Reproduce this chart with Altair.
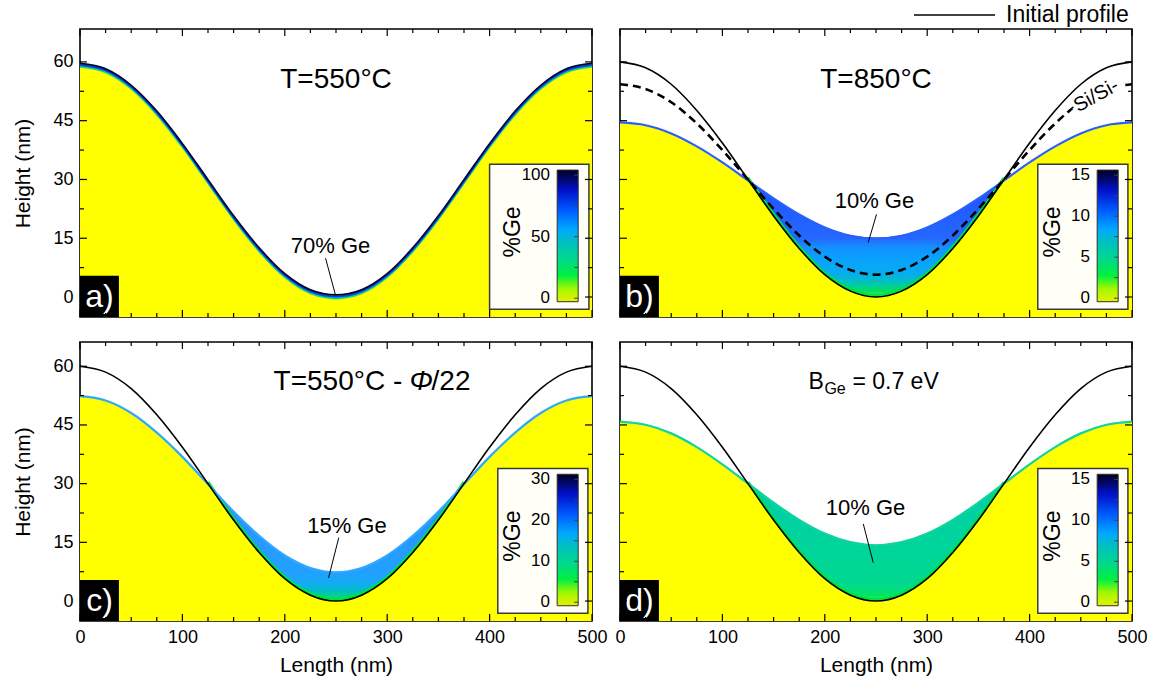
import altair as alt
import pandas as pd

FONT = "Liberation Sans"
YELLOW = "#ffff00"

# ---- profiles (nm) sampled every 25 nm along the ripple ----
LENGTH = [0, 25, 50, 75, 100, 125, 150, 175, 200, 225, 250,
          275, 300, 325, 350, 375, 400, 425, 450, 475, 500]
INITIAL = [60.0, 58.5, 54.3, 47.6, 39.3, 30.0, 20.7, 12.4, 5.7, 1.5, 0.0,
           1.5, 5.7, 12.4, 20.7, 30.0, 39.3, 47.6, 54.3, 58.5, 60.0]
SURFACE_A = [59.7, 58.3, 54.1, 47.5, 39.2, 30.0, 20.8, 12.6, 6.0, 1.9, 0.6,
             1.9, 6.0, 12.6, 20.8, 30.0, 39.2, 47.5, 54.1, 58.3, 59.7]
SURFACE_B = [44.7, 44.0, 41.9, 38.6, 34.5, 29.9, 25.3, 21.2, 17.9, 15.8, 15.1,
             15.8, 17.9, 21.2, 25.3, 29.9, 34.5, 38.6, 41.9, 44.0, 44.7]
INTERFACE_B = [54.3, 53.1, 49.7, 44.3, 37.5, 30.0, 22.5, 15.7, 10.3, 6.9, 5.7,
               6.9, 10.3, 15.7, 22.5, 30.0, 37.5, 44.3, 49.7, 53.1, 54.3]
SURFACE_C = [52.5, 51.4, 48.2, 43.2, 37.0, 30.0, 23.0, 16.8, 11.8, 8.6, 7.5,
             8.6, 11.8, 16.8, 23.0, 30.0, 37.0, 43.2, 48.2, 51.4, 52.5]
SURFACE_D = [46.0, 45.2, 43.0, 39.5, 35.1, 30.2, 25.3, 20.9, 17.4, 15.2, 14.4,
             15.2, 17.4, 20.9, 25.3, 30.2, 35.1, 39.5, 43.0, 45.2, 46.0]

# ---- axis ticks ----
X_MAJOR = [0, 100, 200, 300, 400, 500]
X_MINOR = [25, 50, 75, 125, 150, 175, 225, 250, 275, 325, 350, 375, 425, 450, 475]
Y_MAJOR = [0, 15, 30, 45, 60]
Y_MINOR = [7.5, 22.5, 37.5, 52.5]

# ---- %Ge colour map ----
GE_OFFSETS = [0.0, 0.1, 0.2, 0.33, 0.45, 0.55, 0.7, 0.85, 1.0]
GE_COLORS = ["#e8f000", "#a0f800", "#00f040", "#00d890", "#00c0c0",
             "#00a8ff", "#0058ff", "#0010c8", "#000020"]

# colour through the Ge-rich layer, from the free surface down to the old profile
LAYER_B_OFFSETS = [0.0, 0.5, 0.58, 0.66, 0.8, 0.88, 0.95, 1.0]
LAYER_B_COLORS = ["#2050ff", "#2468ff", "#1490ff", "#0aa0ff", "#06acf0", "#00c4b8", "#00e060", "#70f020"]
LAYER_C_OFFSETS = [0.0, 0.75, 0.85, 0.92, 0.97, 1.0]
LAYER_C_COLORS = ["#2c8cff", "#22a0ff", "#12acf4", "#00c0c0", "#00dc70", "#60f020"]
LAYER_D_OFFSETS = [0.0, 0.5, 0.85, 0.95, 1.0]
LAYER_D_COLORS = ["#00cca8", "#00d49c", "#00d890", "#00e468", "#40f030"]

# thin segregated layer in (a): offset below the surface (px), colour, width
BAND_A_OFFSETS = [4.0, 3.0, 1.8, 0.3]
BAND_A_COLORS = ["#30e050", "#00b8d0", "#0048f0", "#000430"]
BAND_A_WIDTHS = [1.5, 1.5, 2.0, 1.8]

# ---- texts ----
PANEL_LABELS = ["a)", "b)", "c)", "d)"]
CB_LABELS = {"a": [0, 50, 100], "b": [0, 5, 10, 15], "c": [0, 10, 20, 30], "d": [0, 5, 10, 15]}
CB_MINOR = {"a": [0, 25, 50, 75, 100], "b": [0, 2.5, 5, 7.5, 10, 12.5, 15],
            "c": [0, 5, 10, 15, 20, 25, 30], "d": [0, 2.5, 5, 7.5, 10, 12.5, 15]}
NOTE_TEXT = {"a": "70% Ge", "b": "10% Ge", "c": "15% Ge", "d": "10% Ge"}
NOTE_POS = {"a": (244.7, 13.0), "b": (248.5, 24.5), "c": (260.7, 19.1), "d": (239.8, 23.9)}
NOTE_LINE = {"a": (239.8, 9.9, 249.5, 0.5), "b": (250.5, 21.1, 242.4, 13.9),
             "c": (252.7, 16.2, 242.7, 5.9), "d": (237.6, 19.7, 247.3, 9.8)}
LEGEND_LABEL = ["Initial profile"]
INTERFACE_LABEL = ["Si/Si-"]

W = 512
XS = alt.Scale(domain=[0, 500], nice=False, zero=False)


def vgrad(offsets, colors, upward=False):
    return alt.Gradient(
        gradient="linear",
        stops=[alt.GradientStop(color=c, offset=o) for o, c in zip(offsets, colors)],
        x1=0, x2=0, y1=1 if upward else 0, y2=0 if upward else 1,
    )


def panel(key, surface, ydom, height, left, bottom, title_parts, layer=None,
          edge_color=None, box_x=(408, 496)):
    ys = alt.Scale(domain=ydom, nice=False, zero=False)
    xa = alt.Axis(values=X_MAJOR, title="Length (nm)", labelFlush=False, titlePadding=8) if bottom else None
    ya = alt.Axis(values=Y_MAJOR, title="Height (nm)", labelFlush=False, titlePadding=19) if left else None

    def ex(f):
        return alt.X(f"{f}:Q", scale=XS, axis=xa)

    def ey(f):
        return alt.Y(f"{f}:Q", scale=ys, axis=ya)

    prof = pd.DataFrame({"x": LENGTH, "init": INITIAL, "surf": surface})
    valley = prof[(prof.x >= 125) & (prof.x <= 375)]
    L = []

    # substrate
    L.append(alt.Chart(prof).mark_area(color=YELLOW, interpolate="monotone").encode(
        x=ex("x"), y=ey("surf"), y2=alt.datum(ydom[0])))

    if layer is not None:
        offs, cols = layer
        L.append(alt.Chart(valley).mark_area(interpolate="monotone", color=vgrad(offs, cols)).encode(
            x=ex("x"), y=ey("surf"), y2=alt.Y2("init:Q")))
        L.append(alt.Chart(valley).mark_line(color="#00e040", strokeWidth=3, interpolate="monotone",
                                               yOffset=-1.5).encode(x=ex("x"), y=ey("init")))
        L.append(alt.Chart(prof).mark_line(color=edge_color, strokeWidth=2.2, interpolate="monotone",
                                            yOffset=0.6).encode(x=ex("x"), y=ey("surf")))
        L.append(alt.Chart(prof).mark_line(color="black", strokeWidth=1.6, interpolate="monotone").encode(
            x=ex("x"), y=ey("init")))
    else:
        for off, col, wd in zip(BAND_A_OFFSETS, BAND_A_COLORS, BAND_A_WIDTHS):
            L.append(alt.Chart(prof).mark_line(color=col, strokeWidth=wd, interpolate="monotone",
                                                yOffset=off).encode(x=ex("x"), y=ey("surf")))

    if key == "b":
        iface = pd.DataFrame({"x": LENGTH, "h": INTERFACE_B})
        L.append(alt.Chart(iface).mark_line(color="black", strokeWidth=2.6, strokeDash=[8, 5],
                                             interpolate="monotone").encode(x=ex("x"), y=ey("h")))
        lab = pd.DataFrame({"x": [465], "y": [51.4], "t": INTERFACE_LABEL})
        for extra in ({"stroke": "white", "strokeWidth": 7}, {}):
            L.append(alt.Chart(lab).mark_text(font=FONT, fontSize=20, angle=331, align="center",
                                               baseline="middle", **extra).encode(
                x=ex("x"), y=ey("y"), text="t:N"))

    # title
    for part in title_parts:
        t = pd.DataFrame({"x": [part["x"]], "y": [part["y"]], "t": [part["t"]]})
        L.append(alt.Chart(t).mark_text(font=FONT, fontSize=part.get("size", 28), align=part.get("align", "center"),
                                         baseline="middle", fontStyle=part.get("style", "normal"),
                                         dx=part.get("dx", 0), dy=part.get("dy", 0)).encode(
            x=ex("x"), y=ey("y"), text="t:N"))

    # annotation
    nx, ny = NOTE_POS[key]
    note = pd.DataFrame({"x": [nx], "y": [ny], "t": [NOTE_TEXT[key]]})
    L.append(alt.Chart(note).mark_text(font=FONT, fontSize=22, baseline="middle").encode(
        x=ex("x"), y=ey("y"), text="t:N"))
    x1, y1, x2, y2 = NOTE_LINE[key]
    seg = pd.DataFrame({"x": [x1], "y": [y1], "x2": [x2], "y2": [y2]})
    L.append(alt.Chart(seg).mark_rule(color="black", strokeWidth=1).encode(
        x=ex("x"), y=ey("y"), x2=alt.X2("x2:Q"), y2=alt.Y2("y2:Q")))

    # colour bar inset
    box = pd.DataFrame({"x": [box_x[0]], "x2": [box_x[1]], "y": [-3.1], "y2": [33.9]})
    L.append(alt.Chart(box).mark_rect(fill="#fffff8", stroke="#3a3a3a", strokeWidth=1.5).encode(
        x=ex("x"), x2=alt.X2("x2:Q"), y=ey("y"), y2=alt.Y2("y2:Q")))
    bar = pd.DataFrame({"x": [466], "x2": [486.5], "y": [-1.2], "y2": [32.4]})
    L.append(alt.Chart(bar).mark_rect(color=vgrad(GE_OFFSETS, GE_COLORS, upward=True),
                                       stroke="#303030", strokeWidth=1).encode(
        x=ex("x"), x2=alt.X2("x2:Q"), y=ey("y"), y2=alt.Y2("y2:Q")))
    vmax = CB_LABELS[key][-1]
    lo, hi = -0.3, 31.1
    cbt = pd.DataFrame({"v": CB_MINOR[key]})
    cbt["y"] = lo + cbt.v / vmax * (hi - lo)
    cbt["x"], cbt["x2"] = 482.5, 486.5
    L.append(alt.Chart(cbt).mark_rule(color="#404040", strokeWidth=1).encode(
        x=ex("x"), x2=alt.X2("x2:Q"), y=ey("y")))
    cbl = pd.DataFrame({"v": CB_LABELS[key]})
    cbl["y"] = lo + cbl.v / vmax * (hi - lo)
    cbl["x"] = 459
    cbl["t"] = cbl.v.astype(str)
    L.append(alt.Chart(cbl).mark_text(font=FONT, fontSize=17, align="right", baseline="middle").encode(
        x=ex("x"), y=ey("y"), text="t:N"))
    ge = pd.DataFrame({"x": [423], "y": [16.6], "t": ["%Ge"]})
    L.append(alt.Chart(ge).mark_text(font=FONT, fontSize=23, angle=270, align="center", baseline="middle").encode(
        x=ex("x"), y=ey("y"), text="t:N"))

    # panel letter
    idx = "abcd".index(key)
    lb = pd.DataFrame({"x": [0], "x2": [38], "y": [ydom[0]], "y2": [ydom[0] + 10.5]})
    L.append(alt.Chart(lb).mark_rect(color="black").encode(
        x=ex("x"), x2=alt.X2("x2:Q"), y=ey("y"), y2=alt.Y2("y2:Q")))
    lt = pd.DataFrame({"x": [19], "y": [ydom[0] + 5.2], "t": [PANEL_LABELS[idx]]})
    L.append(alt.Chart(lt).mark_text(font=FONT, fontSize=32, color="white", baseline="middle").encode(
        x=ex("x"), y=ey("y"), text="t:N"))

    # inward ticks on all four sides
    for vals, ln in ((X_MAJOR, 7), (X_MINOR, 4)):
        d = pd.DataFrame({"v": vals})
        L.append(alt.Chart(d).mark_rule(color="black", strokeWidth=1.2).encode(
            x=ex("v"), y=alt.value(height), y2=alt.value(height - ln)))
        L.append(alt.Chart(d).mark_rule(color="black", strokeWidth=1.2).encode(
            x=ex("v"), y=alt.value(0), y2=alt.value(ln)))
    for vals, ln in ((Y_MAJOR, 7), (Y_MINOR, 4)):
        d = pd.DataFrame({"v": vals})
        L.append(alt.Chart(d).mark_rule(color="black", strokeWidth=1.2).encode(
            y=ey("v"), x=alt.value(0), x2=alt.value(ln)))
        L.append(alt.Chart(d).mark_rule(color="black", strokeWidth=1.2).encode(
            y=ey("v"), x=alt.value(W), x2=alt.value(W - ln)))

    if key == "b":
        leg = pd.DataFrame({"t": LEGEND_LABEL})
        L.append(alt.Chart(leg).mark_rule(color="black", strokeWidth=1.5).encode(
            x=alt.value(294), x2=alt.value(375), y=alt.value(-14)))
        L.append(alt.Chart(leg).mark_text(font=FONT, fontSize=23, align="left", baseline="middle").encode(
            x=alt.value(386), y=alt.value(-14), text="t:N"))

    return alt.layer(*L).properties(width=W, height=height)


TOP_DOM = [-5.1, 68.4]
BOT_DOM = [-5.1, 66.2]

pa = panel("a", SURFACE_A, TOP_DOM, 288, True, False,
           [{"x": 250, "y": 55.5, "t": "T=550°C"}], box_x=(400, 497))
pb = panel("b", SURFACE_B, TOP_DOM, 288, False, False,
           [{"x": 250, "y": 55.5, "t": "T=850°C"}],
           layer=(LAYER_B_OFFSETS, LAYER_B_COLORS), edge_color="#2a60ff")
pc = panel("c", SURFACE_C, BOT_DOM, 279, True, True,
           [{"x": 189, "y": 56.0, "t": "T=550°C - ", "align": "left"},
            {"x": 189, "y": 56.0, "t": "Φ", "align": "left", "style": "italic", "dx": 136},
            {"x": 189, "y": 56.0, "t": "/22", "align": "left", "dx": 158}],
           layer=(LAYER_C_OFFSETS, LAYER_C_COLORS), edge_color="#30a8ff")
pd_ = panel("d", SURFACE_D, BOT_DOM, 279, False, True,
            [{"x": 184, "y": 56.0, "t": "B", "align": "left", "size": 23},
             {"x": 184, "y": 56.0, "t": "Ge", "align": "left", "size": 16, "dx": 16, "dy": 7},
             {"x": 184, "y": 56.0, "t": "= 0.7 eV", "align": "left", "size": 23, "dx": 44}],
            layer=(LAYER_D_OFFSETS, LAYER_D_COLORS), edge_color="#10d4a0")

chart = alt.concat(pa, pb, pc, pd_, columns=2, spacing={"row": 25, "column": 28}, bounds="flush").configure_view(
    stroke="black", strokeWidth=1.6
).configure_axis(
    labelFont=FONT, titleFont=FONT, labelFontSize=18, titleFontSize=21, titleFontWeight="normal",
    labelColor="black", titleColor="black", ticks=False, domain=False, grid=False, labelPadding=7,
).properties(padding={"left": 12, "top": 3, "right": 5, "bottom": 5}, background="white")

chart.save("out.html", embed_options={"renderer": "svg", "actions": False})
